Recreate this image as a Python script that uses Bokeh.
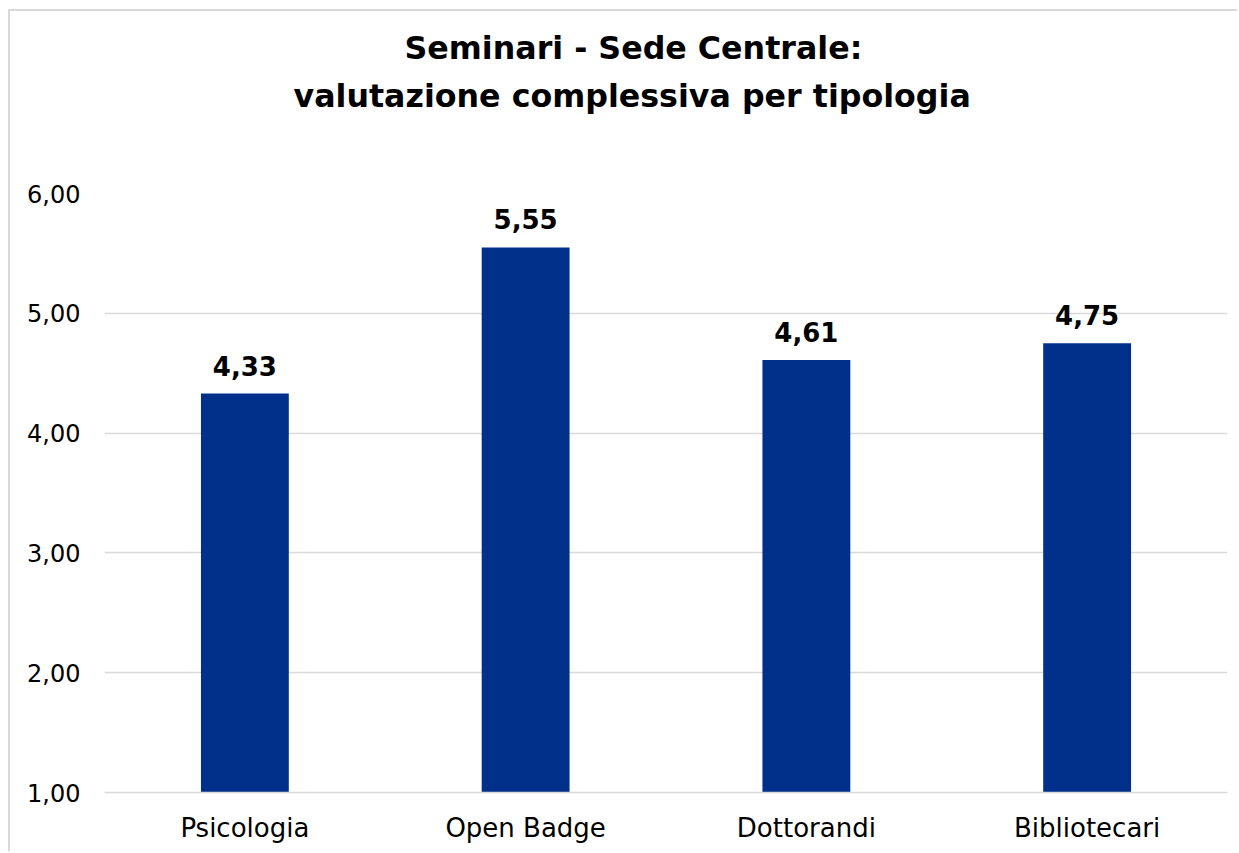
from bokeh.plotting import figure
from bokeh.models import ColumnDataSource, LabelSet, Title, FixedTicker
from bokeh.core.properties import value
from bokeh.embed import file_html
from bokeh.resources import INLINE

categories = ["Psicologia", "Open Badge", "Dottorandi", "Bibliotecari"]
values = [4.33, 5.55, 4.61, 4.75]
y_ticks = [1, 2, 3, 4, 5, 6]
y_tick_labels = ["1,00", "2,00", "3,00", "4,00", "5,00", "6,00"]
title_lines = ["Seminari - Sede Centrale:", "valutazione complessiva per tipologia"]

FONT = "DejaVu Sans"
BAR = "#00308A"
GRID = "#D9D9D9"

src = ColumnDataSource(dict(
    cat=categories,
    val=values,
    lab=[f"{v:.2f}".replace(".", ",") for v in values],
))

p = figure(x_range=categories, y_range=(y_ticks[0], y_ticks[-1]),
           width=1229, height=842, title=None,
           min_border_left=94, min_border_right=12,
           min_border_top=182, min_border_bottom=61,
           output_backend="svg", toolbar_location=None)
p.outline_line_color = None
p.styles = {"margin-left": "8px", "margin-top": "9px",
            "border-left": "2px solid #D9D9D9", "border-top": "2px solid #D9D9D9"}

p.vbar(x="cat", top="val", bottom=y_ticks[0], width=0.313, source=src,
       fill_color=BAR, line_color=None)

p.add_layout(LabelSet(x="cat", y="val", text="lab", source=src,
                      text_align="center", text_baseline="alphabetic",
                      y_offset=18, text_font=value(FONT), text_font_style="bold",
                      text_font_size="26px", text_color="#000000"))

p.yaxis.ticker = FixedTicker(ticks=y_ticks)
p.yaxis.major_label_overrides = {float(t): l for t, l in zip(y_ticks, y_tick_labels)}
p.yaxis.axis_line_color = None
p.yaxis.major_tick_line_color = None
p.yaxis.minor_tick_line_color = None
p.yaxis.major_tick_out = 0
p.yaxis.major_label_standoff = 24
p.yaxis.major_label_text_font = FONT
p.yaxis.major_label_text_font_size = "24px"
p.yaxis.major_label_text_color = "#000000"

p.xaxis.axis_line_color = GRID
p.xaxis.axis_line_width = 1.5
p.xaxis.major_tick_line_color = None
p.xaxis.major_tick_out = 0
p.xaxis.major_label_standoff = 20
p.xaxis.major_label_text_font = FONT
p.xaxis.major_label_text_font_size = "26px"
p.xaxis.major_label_text_color = "#000000"

p.xgrid.grid_line_color = None
p.ygrid.grid_line_color = GRID
p.ygrid.grid_line_width = 1.5

# spacer between title and plot area (closest to frame first)
p.add_layout(Title(text=" ", text_font_size="54px", text_font=FONT), "above")
p.add_layout(Title(text=title_lines[1], align="left", offset=189,
                   text_font=FONT, text_font_style="bold",
                   text_font_size="31.7px", text_color="#000000"), "above")
p.add_layout(Title(text=title_lines[0], align="left", offset=300,
                   text_font=FONT, text_font_style="bold",
                   text_font_size="31.7px", text_color="#000000"), "above")

open("out.html", "w").write(file_html(p, INLINE))
